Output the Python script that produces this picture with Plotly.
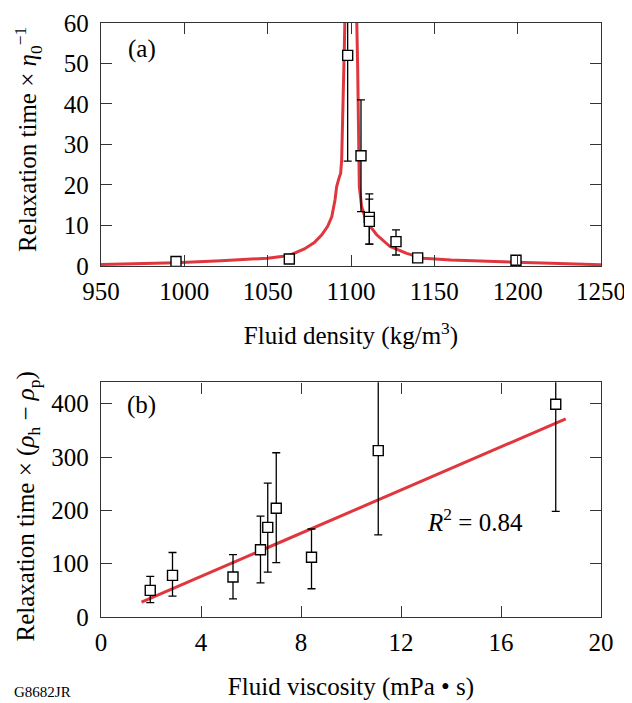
import plotly.graph_objects as go
from plotly.subplots import make_subplots

RED = "#E0373F"
FONT = "Liberation Serif, Times New Roman, serif"

# panel (a): relaxation time vs fluid density
dens = [995, 1063, 1098, 1106, 1111, 1111, 1127, 1140, 1199]
tau_a = [1.1, 1.7, 52.0, 27.2, 12.0, 11.0, 6.0, 2.0, 1.4]
err_a_plus = [0, 0, 20, 13.8, 5.8, 5.5, 2.9, 0, 0]
err_a_minus = [0, 0, 26.1, 13.8, 6.6, 5.6, 3.3, 0, 0]

# fitted curve (a)
curve_dens = [950, 975, 995, 1022, 1050, 1063, 1072, 1078, 1082.5, 1086,
              1088.5, 1090.4, 1091.4, 1092.8, 1093.8, 1094.4, 1095.4, 1096,
              1096.6, 1103.2, 1104, 1104.6, 1105, 1106.4, 1109.4, 1115.4,
              1123.4, 1133.4, 1143.4, 1160, 1180, 1200, 1225, 1250]
curve_tau = [0.35, 0.55, 0.8, 1.3, 1.9, 2.6, 4.2, 5.8, 7.7, 9.8,
             12.2, 16.3, 19.6, 21.7, 22.9, 26.2, 41, 54,
             66, 66, 49, 32.8, 19.6, 14.6, 10.9, 7.7,
             4.8, 3.1, 1.9, 1.45, 1.15, 0.9, 0.6, 0.3]

# panel (b): relaxation time vs fluid viscosity
visc = [1.97, 2.86, 5.28, 6.38, 6.67, 7.01, 8.42, 11.09, 18.19]
tau_b = [50, 78, 75, 126, 168, 204, 112, 312, 399]
err_b_plus = [26, 43, 42, 63, 83, 104, 53, 160, 201]
err_b_minus = [23, 39, 41, 62, 84, 102, 59, 158, 201]

fit_visc = [1.62, 18.59]
fit_tau = [28, 371.5]

fig = make_subplots(rows=2, cols=1)

marker = dict(symbol="square", size=10, color="white",
              line=dict(color="black", width=1.4))

fig.add_trace(go.Scatter(x=curve_dens, y=curve_tau, mode="lines",
                         line=dict(color=RED, width=3), showlegend=False),
              row=1, col=1)
fig.add_trace(go.Scatter(
    x=dens, y=tau_a, mode="markers", marker=marker, showlegend=False,
    error_y=dict(type="data", symmetric=False, array=err_a_plus,
                 arrayminus=err_a_minus, color="black", thickness=1.3, width=4),
), row=1, col=1)

fig.add_trace(go.Scatter(x=fit_visc, y=fit_tau, mode="lines",
                         line=dict(color=RED, width=3), showlegend=False),
              row=2, col=1)
fig.add_trace(go.Scatter(
    x=visc, y=tau_b, mode="markers", marker=marker, showlegend=False,
    error_y=dict(type="data", symmetric=False, array=err_b_plus,
                 arrayminus=err_b_minus, color="black", thickness=1.3, width=4),
), row=2, col=1)

axis_style = dict(showgrid=False, zeroline=False, showline=True, mirror="ticks",
                  linecolor="#333333", linewidth=1.3, ticks="inside", ticklen=11,
                  tickwidth=1.3, tickcolor="#333333", automargin=False,
                  tickfont=dict(family=FONT, size=25, color="black"))
title_font = dict(family=FONT, size=25, color="black")

fig.update_xaxes(**axis_style, ticklabelstandoff=3)
fig.update_yaxes(**axis_style, ticklabelstandoff=6)

fig.update_xaxes(range=[950, 1250], dtick=50, domain=[0, 1],
                 title=dict(text="Fluid density (kg/m<sup>3</sup>)", standoff=22,
                            font=title_font),
                 row=1, col=1)
fig.update_yaxes(range=[0, 60], dtick=10, domain=[0.591, 1], row=1, col=1)
fig.update_xaxes(range=[0, 20], dtick=4, domain=[0, 1],
                 title=dict(text="Fluid viscosity (mPa • s)", standoff=22,
                            font=title_font),
                 row=2, col=1)
fig.update_yaxes(range=[0, 440], dtick=100, domain=[0, 0.395], row=2, col=1)

annotations = [
    dict(text="(a)", x=0.0814, y=0.9557),
    dict(text="(b)", x=0.0814, y=0.357),
    dict(text="<i>R</i><sup>2</sup> = 0.84", x=14.97, y=182, xref="x2", yref="y2"),
    dict(text="Relaxation time × <i>η</i><sub>0</sub><sup>−1</sup>",
         x=-0.146, y=0.803, textangle=-90),
    dict(text="Relaxation time × (<i>ρ</i><sub>h</sub> − <i>ρ</i><sub>p</sub>)",
         x=-0.146, y=0.186, textangle=-90),
    dict(text="G8682JR", x=-0.118, y=-0.126,
         font=dict(family=FONT, size=15, color="black")),
]
for a in annotations:
    a.setdefault("xref", "paper")
    a.setdefault("yref", "paper")
    a.setdefault("font", title_font)
    a.update(showarrow=False, xanchor="center", yanchor="middle")

# page body adds an 8px margin, so the figure is 8px smaller each way
fig.update_layout(
    width=624, height=695,
    margin=dict(l=93, r=31, t=15, b=86),
    paper_bgcolor="white", plot_bgcolor="white",
    font=dict(family=FONT, color="black"),
    annotations=annotations,
)

fig.write_html("out.html")
